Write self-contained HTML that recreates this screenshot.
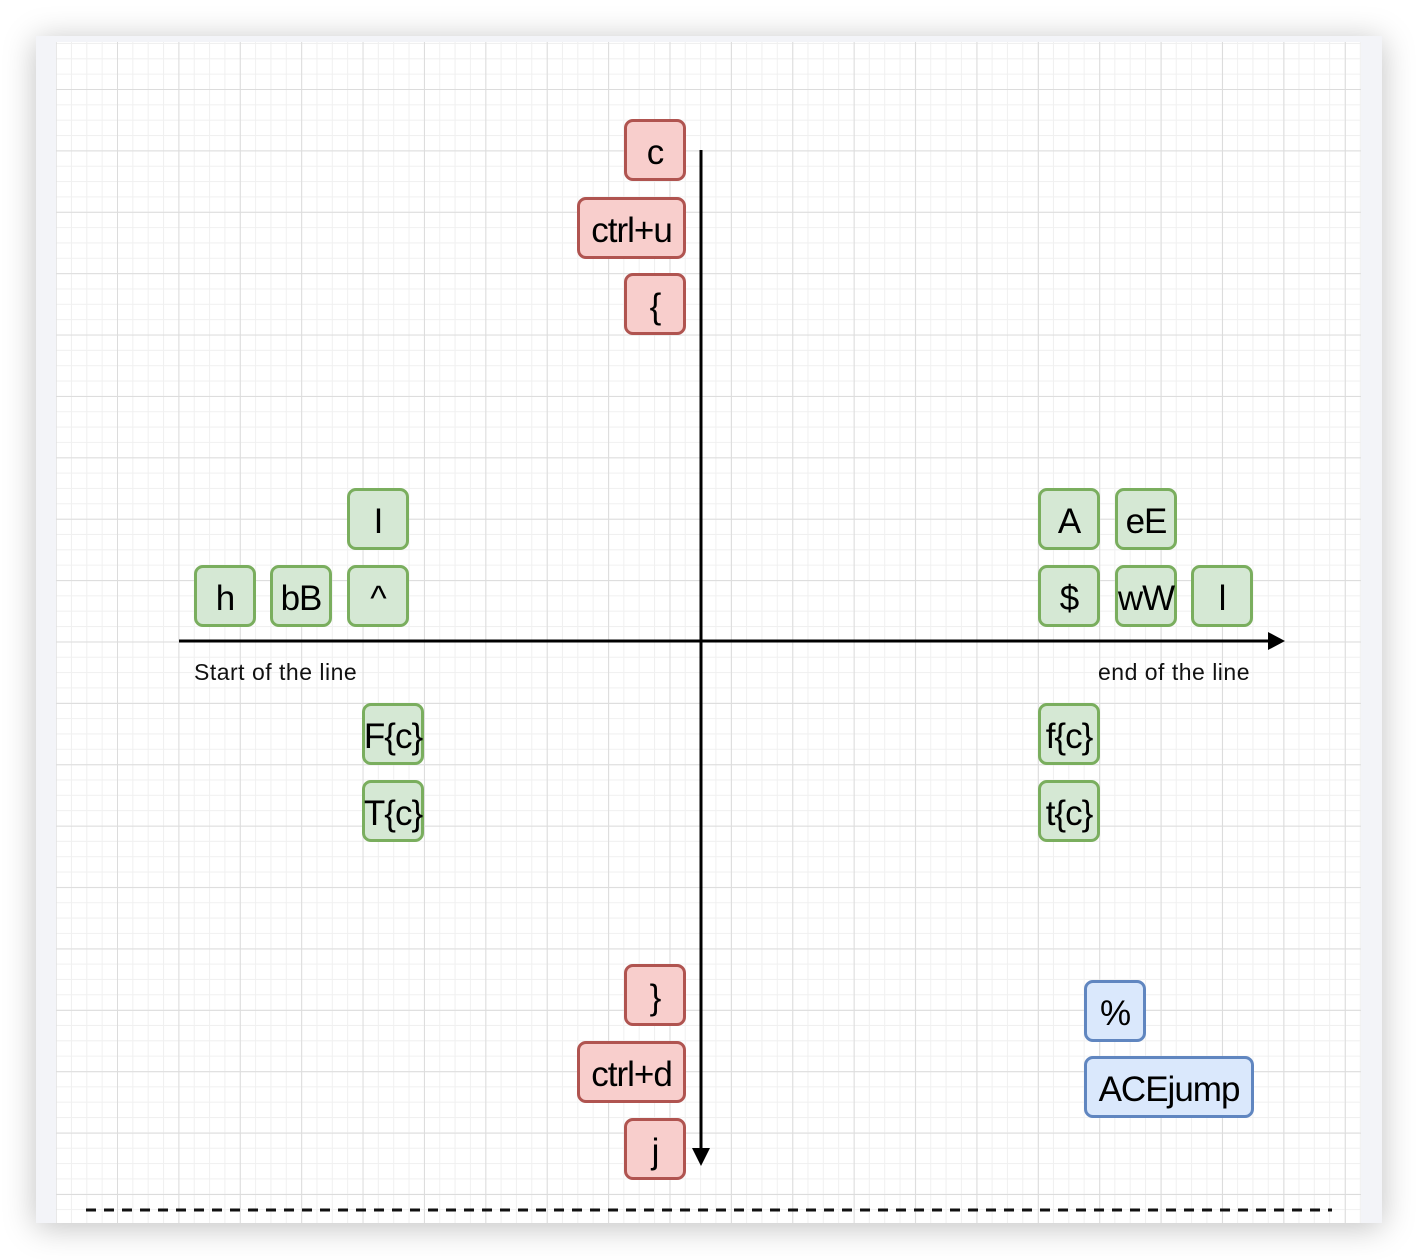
<!DOCTYPE html>
<html><head><style>
body{margin:0;width:1418px;height:1260px;background:#fff;position:relative;overflow:hidden;font-family:"Liberation Sans",sans-serif}
.panel{position:absolute;left:36px;top:36px;width:1346px;height:1187px;background:#f3f4f8;box-shadow:0 4px 30px rgba(0,0,0,0.25)}
.grid{position:absolute;left:56px;top:42px;width:1305px;height:1181px;background-color:#fff;
background-image:linear-gradient(#dcdcdc 1px,transparent 1px),linear-gradient(90deg,#dcdcdc 1px,transparent 1px),linear-gradient(#f0f0f0 1px,transparent 1px),linear-gradient(90deg,#f0f0f0 1px,transparent 1px);
background-size:61.4px 61.4px,61.4px 61.4px,15.35px 15.35px,15.35px 15.35px;
background-position:0 47px,61px 0,0 47px,61px 0}
.b{position:absolute;box-sizing:border-box;border:3px solid;border-radius:9px;display:flex;align-items:center;justify-content:center;font-size:35px;padding-top:6px;color:#000;height:62px;width:62px;white-space:nowrap;letter-spacing:-1px}
.r{background:#f8cecc;border-color:#b05450}
.g{background:#d5e8d4;border-color:#7aae5e}
.u{background:#dae8fc;border-color:#6086c0}
.t{position:absolute;font-size:23px;color:#111;letter-spacing:0.5px}
</style></head><body>
<div class="panel"></div>
<div class="grid"></div>
<svg width="1418" height="1260" style="position:absolute;left:0;top:0">
<line x1="701" y1="150" x2="701" y2="1150" stroke="#000" stroke-width="3"/>
<polygon points="692,1148 710,1148 701,1166" fill="#000"/>
<line x1="179" y1="641" x2="1270" y2="641" stroke="#000" stroke-width="3"/>
<polygon points="1268,632 1268,650 1285,641" fill="#000"/>
<line x1="86" y1="1210" x2="1332" y2="1210" stroke="#111" stroke-width="3" stroke-dasharray="10,8"/>
</svg>
<div class="b r" style="left:624px;top:119px">c</div>
<div class="b r" style="left:577px;top:197px;width:109px">ctrl+u</div>
<div class="b r" style="left:624px;top:273px">{</div>
<div class="b r" style="left:624px;top:964px">}</div>
<div class="b r" style="left:577px;top:1041px;width:109px">ctrl+d</div>
<div class="b r" style="left:624px;top:1118px">j</div>
<div class="b g" style="left:347px;top:488px">I</div>
<div class="b g" style="left:194px;top:565px">h</div>
<div class="b g" style="left:270px;top:565px">bB</div>
<div class="b g" style="left:347px;top:565px">^</div>
<div class="b g" style="left:362px;top:703px">F{c}</div>
<div class="b g" style="left:362px;top:780px">T{c}</div>
<div class="b g" style="left:1038px;top:488px">A</div>
<div class="b g" style="left:1115px;top:488px">eE</div>
<div class="b g" style="left:1038px;top:565px">$</div>
<div class="b g" style="left:1115px;top:565px">wW</div>
<div class="b g" style="left:1191px;top:565px">l</div>
<div class="b g" style="left:1038px;top:703px">f{c}</div>
<div class="b g" style="left:1038px;top:780px">t{c}</div>
<div class="b u" style="left:1084px;top:980px">%</div>
<div class="b u" style="left:1084px;top:1056px;width:170px">ACEjump</div>
<div class="t" style="left:194px;top:659px">Start of the line</div>
<div class="t" style="left:1098px;top:659px">end of the line</div>
</body></html>
